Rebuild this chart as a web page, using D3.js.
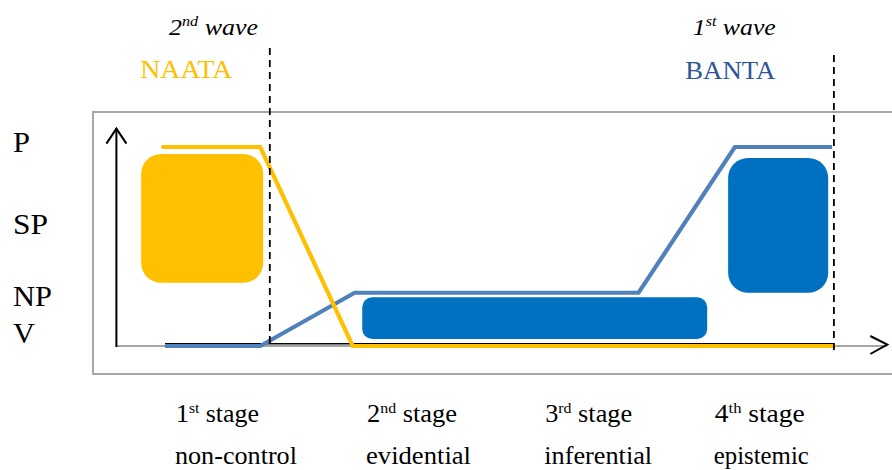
<!DOCTYPE html>
<html><head><meta charset="utf-8">
<script src="https://cdn.jsdelivr.net/npm/d3@7"></script>
<style>
body{margin:0;background:#fff;}
svg{display:block;}
svg text{font-family:"Liberation Serif","Times New Roman",Times,Tinos,"Nimbus Roman","Nimbus Roman No9 L","DejaVu Serif","Noto Serif",FreeSerif,"STIX Two Text",serif;}
</style>
</head><body>
<svg id="c" width="892" height="470"></svg>
<script>
// ---- data ----
const yLevels = ["P", "SP", "NP", "V"];
const yLevelPos = [4.10, 2.46, 1.0, 0.27];

const stageNums = ["1", "2", "3", "4"];
const stageSups = ["st", "nd", "rd", "th"];
const stageNames = ["non-control", "evidential", "inferential", "epistemic"];
const stagePos = [0.115, 2.12, 3.99, 5.77];

const naataX = [-0.02, 1, 1.97, 7.02];
const naataY = [4, 4, 0, 0];
const bantaX = [0, 1, 1.99, 4.97, 5.98, 7];
const bantaY = [0, 0, 1.07, 1.07, 4, 4];

// rounded boxes
const boxNames = ["NAATA", "BANTA-mid", "BANTA-top"];
const boxX0 = [-0.25, 2.07, 5.91];
const boxX1 = [1.03, 5.69, 6.96];
const boxYTop = [3.86, 0.98, 3.78];
const boxYBot = [1.27, 0.14, 1.07];

const waveLabels = [["2", "nd", " wave"], ["1", "st", " wave"]];
const waveEndX = [0.976, 6.41];
const waveDashX = [1.10, 7.02];
const waveDashTop = [5.99, 5.85];
const waveDashBot = [-0.02, -0.14];
const theoryLabels = ["NAATA", "BANTA"];
const theoryX = [-0.26, 5.46];

// ---- scales ----
const svg = d3.select("#c");
const x = d3.scaleLinear().domain([0, 7]).range([165, 832]);
const y = d3.scaleLinear().domain([0, 4]).range([346, 147]);

const YELLOW = "#FFC000", BLUE_LINE = "#4F81BD", BLUE_BOX = "#0070C0", BLUE_TXT = "#2F5597";

// frame
svg.append("rect").attr("x", 93).attr("y", 112).attr("width", 830).attr("height", 262)
  .attr("fill", "none").attr("stroke", "#A6A6A6").attr("stroke-width", 2);

// axes
const axX0 = x(-0.51);
svg.append("line").attr("x1", axX0).attr("x2", x(7.58)).attr("y1", y(0)).attr("y2", y(0))
  .attr("stroke", "#A6A6A6").attr("stroke-width", 2);
svg.append("line").attr("x1", x(0)).attr("x2", x(7.02)).attr("y1", y(0) - 2.3).attr("y2", y(0) - 2.3)
  .attr("stroke", "#000").attr("stroke-width", 1.6);
svg.append("line").attr("x1", axX0).attr("x2", axX0).attr("y1", y(-0.02)).attr("y2", y(4.37))
  .attr("stroke", "#000").attr("stroke-width", 2);
svg.append("polyline").attr("points", [[axX0 - 10, y(4.37) + 15], [axX0, y(4.37)], [axX0 + 10, y(4.37) + 15]].join(" "))
  .attr("fill", "none").attr("stroke", "#000").attr("stroke-width", 2);
const tipX = x(7.58);
svg.append("polyline").attr("points", [[tipX - 17, y(0) - 10], [tipX, y(0) - 1.5], [tipX - 17, y(0) + 8]].join(" "))
  .attr("fill", "none").attr("stroke", "#000").attr("stroke-width", 2);

// boxes
svg.selectAll("rect.box").data(boxNames).join("rect").attr("class", "box")
  .attr("x", (d, i) => x(boxX0[i])).attr("y", (d, i) => y(boxYTop[i]))
  .attr("width", (d, i) => x(boxX1[i]) - x(boxX0[i]))
  .attr("height", (d, i) => y(boxYBot[i]) - y(boxYTop[i]))
  .attr("rx", (d, i) => i === 1 ? 10 : 20)
  .attr("fill", (d, i) => i === 0 ? YELLOW : BLUE_BOX);

// lines
const line = d3.line().x(d => x(d[0])).y(d => y(d[1]));
svg.append("path").datum(bantaX.map((v, i) => [v, bantaY[i]])).attr("d", line)
  .attr("fill", "none").attr("stroke", BLUE_LINE).attr("stroke-width", 4.2)
  .attr("stroke-linejoin", "miter");
svg.append("path").datum(naataX.map((v, i) => [v, naataY[i]])).attr("d", line)
  .attr("fill", "none").attr("stroke", YELLOW).attr("stroke-width", 4.2)
  .attr("stroke-linejoin", "miter").attr("stroke-linecap", "round");

// dashed wave lines
svg.selectAll("line.wave").data(waveDashX).join("line").attr("class", "wave")
  .attr("x1", d => x(d)).attr("x2", d => x(d))
  .attr("y1", (d, i) => y(waveDashTop[i])).attr("y2", (d, i) => y(waveDashBot[i]))
  .attr("stroke", "#000").attr("stroke-width", 1.8).attr("stroke-dasharray", "7,5");

// wave labels
const waveW = [89, 83];
waveLabels.forEach((parts, i) => {
  const t = svg.append("text").attr("x", x(waveEndX[i]) - waveW[i]).attr("y", 35)
    .attr("font-style", "italic").attr("font-size", 24).attr("fill", "#000")
    .attr("textLength", waveW[i]).attr("lengthAdjust", "spacingAndGlyphs");
  t.append("tspan").text(parts[0]);
  t.append("tspan").attr("dy", -9).attr("font-size", 15).text(parts[1]);
  t.append("tspan").attr("dy", 9).text(parts[2]);
});
svg.selectAll("text.theory").data(theoryLabels).join("text").attr("class", "theory")
  .attr("x", (d, i) => x(theoryX[i])).attr("y", (d, i) => 78 + i)
  .attr("font-size", 25).attr("textLength", (d, i) => i === 0 ? 92 : 90).attr("lengthAdjust", "spacingAndGlyphs")
  .attr("fill", (d, i) => i === 0 ? YELLOW : BLUE_TXT).text(d => d);

// y level labels
const yLevW = [17, 35, 39, 22];
svg.selectAll("text.ylev").data(yLevels).join("text").attr("class", "ylev")
  .attr("x", 13).attr("y", (d, i) => y(yLevelPos[i]) + 10)
  .attr("font-size", 30).attr("fill", "#000")
  .attr("textLength", (d, i) => yLevW[i]).attr("lengthAdjust", "spacingAndGlyphs")
  .text(d => d);

// stage labels
const stageW = [83, 90, 87, 90];
const nameW = [122, 105, 108, 95];
stageNums.forEach((n, i) => {
  const t = svg.append("text").attr("x", x(stagePos[i])).attr("y", 422)
    .attr("font-size", 25).attr("fill", "#000")
    .attr("textLength", stageW[i]).attr("lengthAdjust", "spacingAndGlyphs");
  t.append("tspan").text(n);
  t.append("tspan").attr("dy", -9).attr("font-size", 15).text(stageSups[i]);
  t.append("tspan").attr("dy", 9).text(" stage");
  svg.append("text").attr("x", x(stagePos[i]) - 1).attr("y", 464)
    .attr("font-size", 25).attr("fill", "#000")
    .attr("textLength", nameW[i]).attr("lengthAdjust", "spacingAndGlyphs")
    .text(stageNames[i]);
});
</script>
</body></html>
